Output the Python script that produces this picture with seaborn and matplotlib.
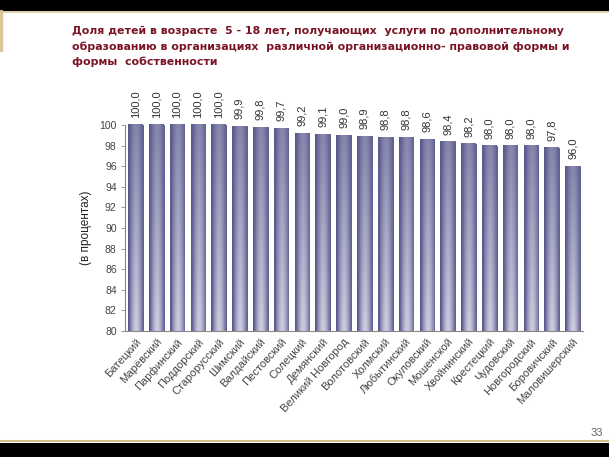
import numpy as np
import pandas as pd
import matplotlib
matplotlib.use("Agg")
import matplotlib.pyplot as plt
import seaborn as sns

districts = ["Батецкий", "Марёвский", "Парфинский", "Поддорский", "Старорусский",
             "Шимский", "Валдайский", "Пестовский", "Солецкий", "Демянский",
             "Великий Новгород", "Волотовский", "Холмский", "Любытинский",
             "Окуловский", "Мошенской", "Хвойнинский", "Крестецкий", "Чудовский",
             "Новгородский", "Боровичский", "Маловишерский"]
values = [100.0, 100.0, 100.0, 100.0, 100.0, 99.9, 99.8, 99.7, 99.2, 99.1, 99.0,
          98.9, 98.8, 98.8, 98.6, 98.4, 98.2, 98.0, 98.0, 98.0, 97.8, 96.0]
y_ticks = [80, 82, 84, 86, 88, 90, 92, 94, 96, 98, 100]
title_lines = ["Доля детей в возрасте  5 - 18 лет, получающих  услуги по дополнительному",
               "образованию в организациях  различной организационно- правовой формы и",
               "формы  собственности"]
y_label = "(в процентах)"
page_number = "33"

df = pd.DataFrame({"district": districts, "value": values})

sns.set_theme(style="white")
plt.rcParams["font.family"] = ["Liberation Sans", "DejaVu Sans"]

W, H = 609, 457
fig = plt.figure(figsize=(W / 100, H / 100), dpi=100)
fig.patch.set_facecolor("white")

ax = fig.add_axes([125 / W, 1 - 331 / H, (583 - 125) / W, (331 - 125) / H])
sns.barplot(data=df, x="district", y="value", ax=ax, color="#5c5c92",
            width=0.7, saturation=1, edgecolor="#55557f", linewidth=0.6)

ymin, ymax = 80, 100
ax.set_ylim(ymin, ymax)
ax.set_xlim(-0.5, len(districts) - 0.5)

# cylinder-like gradient inside each bar
dark = np.array([88, 88, 140]) / 255
light = np.array([226, 226, 240]) / 255
nx, ny = 40, 60
xs = np.linspace(0, 1, nx)
ys = np.linspace(0, 1, ny)
hprof = np.clip(1 - np.abs((xs - 0.55) / 0.5) ** 1.6, 0, 1)
vprof = 0.40 + 0.60 * (1 - ys)  # row 0 = bottom (origin lower)
f = np.outer(vprof, hprof) * 0.85
img = dark[None, None, :] + (light - dark)[None, None, :] * f[:, :, None]

for p in ax.patches:
    x0, w, h = p.get_x(), p.get_width(), p.get_height()
    # visible part of the bar starts at the axis floor
    p.set_y(ymin)
    p.set_height(h - ymin)
    p.set_clip_on(False)
    im = ax.imshow(img, extent=[x0, x0 + w, ymin, h], origin="lower",
                   aspect="auto", zorder=p.get_zorder() + 0.1, clip_on=False,
                   interpolation="bilinear")
    im.set_clip_path(p)

ax.set_xlim(-0.5, len(districts) - 0.5)
ax.set_ylim(ymin, ymax)

labels = [f"{v:.1f}".replace(".", ",") for v in values]
ax.bar_label(ax.containers[0], labels=labels, rotation=90, padding=5,
             fontsize=8, color="#333333")

ax.set_yticks(y_ticks)
ax.set_yticklabels([str(t) for t in y_ticks], fontsize=7.5, color="#444444")
ax.tick_params(axis="y", length=3, width=0.6, color="#888888", pad=3, left=True)
ax.tick_params(axis="x", length=0, pad=4)
ax.set_xticks(range(len(districts)))
ax.set_xticklabels(districts, rotation=48, ha="right", rotation_mode="anchor",
                   fontsize=8, color="#444444")
ax.set_xlabel("")
ax.set_ylabel(y_label, fontsize=8.5, color="#222222", labelpad=5)

for side in ["top", "right"]:
    ax.spines[side].set_visible(False)
for side in ["left", "bottom"]:
    ax.spines[side].set_color("#888888")
    ax.spines[side].set_linewidth(0.8)
    ax.spines[side].set_zorder(5)

# title
title_color = "#7a1424"
for i, line in enumerate(title_lines):
    fig.text(72 / W, 1 - (31 + 15.5 * i) / H, line, ha="left", va="center",
             fontsize=7.9, fontweight="bold", color=title_color,
             family=["DejaVu Sans"])

# slide decorations
deco = fig.add_axes([0, 0, 1, 1], zorder=-1)
deco.set_xlim(0, W)
deco.set_ylim(H, 0)
deco.axis("off")
deco.add_patch(plt.Rectangle((0, 0), W, 11, color="black", lw=0))
deco.add_patch(plt.Rectangle((0, 443), W, 14, color="black", lw=0))
deco.plot([0, W], [11.8, 11.8], color="#d9c79a", lw=1.2)
deco.plot([1, 1], [11, 50], color="#d9c79a", lw=2.5)
deco.plot([0, W], [441, 441], color="#d4c08a", lw=1.5)
fig.text(603 / W, 1 - 433 / H, page_number, ha="right", va="center",
         fontsize=8, color="#666666")

fig.savefig("out.png", dpi=100)
